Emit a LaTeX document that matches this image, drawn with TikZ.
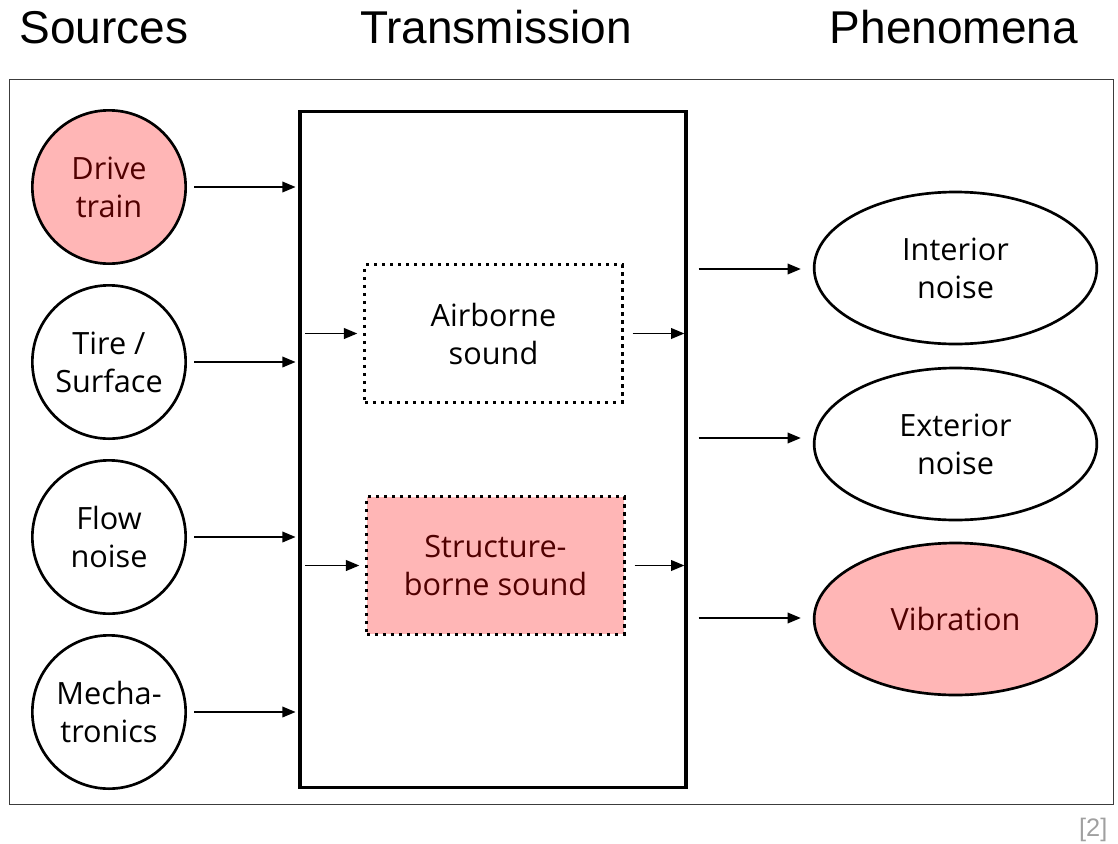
\documentclass[tikz,border=0pt]{standalone}
\usepackage{fontspec}
\setmainfont{Open Sans}
\newfontfamily\titlefont{Liberation Sans}
\usetikzlibrary{arrows.meta,shapes.geometric}
\definecolor{pinkfill}{RGB}{255,182,182}
\definecolor{darkred}{RGB}{80,0,0}
\definecolor{refgray}{RGB}{160,160,160}
\definecolor{framegray}{RGB}{60,60,60}
\begin{document}
\begin{tikzpicture}[x=0.75pt,y=-0.75pt,
  lbl/.style={font=\fontsize{23}{28.5}\selectfont, align=center},
  src/.style={lbl, circle, draw, line width=2pt, minimum size=115pt, inner sep=0pt},
  phen/.style={lbl, ellipse, draw, line width=2pt, minimum width=212pt, minimum height=114pt, inner sep=0pt},
  sub/.style={lbl, rectangle, draw, line width=2.3pt, dash pattern=on 2.3pt off 3.7pt, minimum width=193pt, minimum height=103pt, inner sep=0pt},
  hot/.style={fill=pinkfill, text=darkred},
  arr/.style={-{Triangle[length=10pt,width=8pt]}, line width=1.3pt},
  title/.style={font=\titlefont\fontsize{34.5}{40}\selectfont, anchor=base}]
\useasboundingbox (0,0) rectangle (1118,843);

% titles
\node[title] (tsrc) at (104,43) {Sources};
\node[title] (ttrans) at (496,43) {Transmission};
\node[title] (tphen) at (954,43) {Phenomena};
\node[font=\titlefont\fontsize{19}{22}\selectfont, text=refgray, anchor=base east] (ref) at (1112,836) {[2]};

% outer frame
\draw[framegray, line width=0.9pt] (9.5,79.5) rectangle (1113.5,804.5);

% transmission box
\node[draw, line width=2.6pt, minimum width=289.5pt, minimum height=507pt, inner sep=0pt] (trans) at (493,449.5) {};

% sources
\node[src, hot] (drive) at (109,187) {Drive\\train};
\node[src] (tire) at (109,362) {Tire /\\Surface};
\node[src] (flow) at (109,537) {Flow\\noise};
\node[src] (mech) at (109,712) {Mecha-\\tronics};

% sub boxes
\node[sub] (air) at (493.5,333.5) {Airborne\\sound};
\node[sub, hot] (struct) at (495.5,565.5) {Structure-\\borne sound};

% phenomena
\node[phen] (inter) at (955.5,268) {Interior\\noise};
\node[phen] (exter) at (955.5,444) {Exterior\\noise};
\node[phen, hot] (vib) at (955.5,619) {Vibration};

% source arrows
\foreach \s in {drive,tire,flow,mech}
  \draw[arr] ([xshift=5.25pt]\s.east) -- ([xshift=-2pt]\s.east -| trans.west);

% inner arrows
\foreach \b in {air,struct} {
  \draw[arr] ([xshift=5.25pt]trans.west |- \b.west) -- ([xshift=-4.5pt]\b.west);
  \draw[arr] ([xshift=6.75pt]\b.east) -- ([xshift=-2.5pt]\b.east -| trans.east);
}

% phenomena arrows
\draw[arr] ([xshift=8.25pt,yshift=-0.75pt]trans.east |- inter.west) -- ([xshift=-9pt,yshift=-0.75pt]inter.west);
\draw[arr] ([xshift=8.25pt,yshift=4.5pt]trans.east |- exter.west) -- ([xshift=-9pt,yshift=4.5pt]exter.west);
\draw[arr] ([xshift=8.25pt,yshift=0.75pt]trans.east |- vib.west) -- ([xshift=-9pt,yshift=0.75pt]vib.west);
\end{tikzpicture}
\end{document}
